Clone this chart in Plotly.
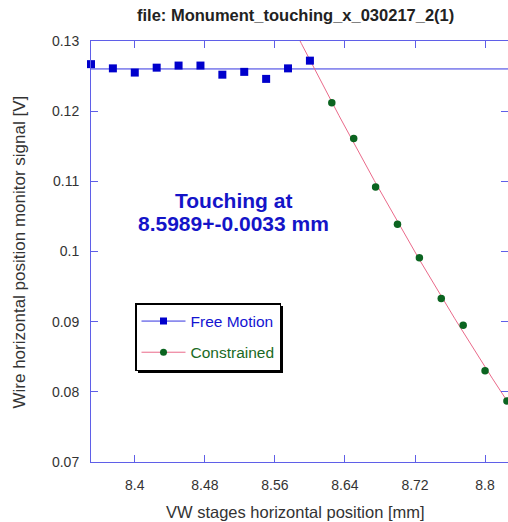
import numpy as np
import plotly.graph_objects as go

# Stage scan: wire monitor signal vs. horizontal stage position
free_x = [8.35, 8.375, 8.40, 8.425, 8.45, 8.475, 8.50, 8.525, 8.55, 8.575, 8.60]
free_y = [0.1267, 0.1261, 0.1255, 0.1262, 0.1265, 0.1265, 0.1252, 0.1256, 0.1246, 0.1261, 0.1272]

con_x = [8.625, 8.65, 8.675, 8.70, 8.725, 8.75, 8.775, 8.80, 8.825]
con_y = [0.1212, 0.1161, 0.1092, 0.1039, 0.0991, 0.0933, 0.0895, 0.0830, 0.0787]

x_ticks = [8.40, 8.48, 8.56, 8.64, 8.72, 8.80]
x_tick_text = ["8.4", "8.48", "8.56", "8.64", "8.72", "8.8"]
y_ticks = [0.07, 0.08, 0.09, 0.10, 0.11, 0.12, 0.13]
y_tick_text = ["0.07", "0.08", "0.09", "0.1", "0.11", "0.12", "0.13"]

touch_text = ["Touching at", "8.5989+-0.0033 mm"]

X_RANGE = [8.35, 8.8262]
Y_RANGE = [0.07, 0.13]

FONT = "Liberation Sans, Arial, sans-serif"
AXIS_BLUE = "#5f5fe8"
FREE_MARK = "#0000cc"
FREE_LINE = "#3434e0"
CON_MARK = "#0b6420"
CON_LINE = "#ea6a8a"

# plot area in pixels, used to place paper-referenced text and boxes
PL, PR, PT, PB = 91, 508, 41, 462


def px_x(v):
    return (v - PL) / (PR - PL)


def px_y(v):
    return (PB - v) / (PB - PT)


# Fits: flat level for free motion, quadratic for the constrained branch
free_level = float(np.mean(free_y))
con_coef = np.polyfit(con_x, con_y, 2)
fit_x = np.linspace(8.55, X_RANGE[1], 200)
fit_y = np.polyval(con_coef, fit_x)

fig = go.Figure()

fig.add_trace(go.Scatter(
    x=X_RANGE, y=[free_level, free_level], mode="lines",
    line=dict(color=FREE_LINE, width=1), showlegend=False, hoverinfo="skip"))
fig.add_trace(go.Scatter(
    x=fit_x, y=fit_y, mode="lines",
    line=dict(color=CON_LINE, width=1), showlegend=False, hoverinfo="skip"))

fig.add_trace(go.Scatter(
    x=free_x, y=free_y, mode="markers", cliponaxis=False,
    marker=dict(symbol="square", size=8, color=FREE_MARK), showlegend=False))
fig.add_trace(go.Scatter(
    x=con_x, y=con_y, mode="markers", cliponaxis=False,
    marker=dict(symbol="circle", size=7.5, color=CON_MARK), showlegend=False))

# legend entries
fig.add_trace(go.Scatter(
    x=[None], y=[None], mode="lines+markers", legendgroup="a",
    name='<span style="color:%s">Free Motion</span>' % "#1414d2",
    line=dict(color=FREE_LINE, width=1),
    marker=dict(symbol="square", size=7, color=FREE_MARK)))
fig.add_trace(go.Scatter(
    x=[None], y=[None], mode="lines+markers", legendgroup="b",
    name='<span style="color:%s">Constrained</span>' % "#1a6a24",
    line=dict(color=CON_LINE, width=1),
    marker=dict(symbol="circle", size=7, color=CON_MARK)))

axis_common = dict(
    showline=True, linecolor=AXIS_BLUE, linewidth=1, mirror="ticks",
    ticks="inside", ticklen=7, tickcolor=AXIS_BLUE, tickwidth=1,
    showgrid=False, zeroline=False,
    tickfont=dict(family=FONT, size=14, color="#333333"),
)

fig.update_xaxes(range=X_RANGE, tickvals=x_ticks, ticktext=x_tick_text,
                 ticklabelstandoff=10, **axis_common)
fig.update_yaxes(range=Y_RANGE, tickvals=y_ticks, ticktext=y_tick_text,
                 ticklabelstandoff=8, **axis_common)

annotations = [
    dict(text="<b>file: Monument_touching_x_030217_2(1)</b>", xref="paper", yref="paper",
         x=px_x(295), y=px_y(15), xanchor="center", yanchor="middle",
         showarrow=False, font=dict(family=FONT, size=16.5, color="#222222")),
    dict(text="VW stages horizontal position [mm]", xref="paper", yref="paper",
         x=px_x(295.5), y=px_y(512), xanchor="center", yanchor="middle",
         showarrow=False, font=dict(family=FONT, size=16.5, color="#333333")),
    dict(text="Wire horizontal position monitor signal [V]", xref="paper", yref="paper",
         x=px_x(19), y=px_y(252.5), xanchor="center", yanchor="middle",
         textangle=-90, showarrow=False, font=dict(family=FONT, size=17, color="#333333")),
]
for line_text, ypx in zip(touch_text, [200, 223]):
    annotations.append(dict(
        text="<b>%s</b>" % line_text, xref="paper", yref="paper",
        x=px_x(233), y=px_y(ypx), xanchor="center", yanchor="middle",
        showarrow=False, font=dict(family=FONT, size=21, color="#1414c8")))

# drop shadow behind the legend box
shadow = dict(type="rect", xref="paper", yref="paper", layer="above",
              x0=px_x(138), x1=px_x(283), y0=px_y(373), y1=px_y(306),
              fillcolor="black", line=dict(width=0))

fig.update_layout(
    width=508, height=522,
    margin=dict(l=PL, r=508 - PR, t=PT, b=522 - PB),
    paper_bgcolor="white", plot_bgcolor="white",
    annotations=annotations,
    shapes=[shadow],
    legend=dict(x=px_x(135), y=px_y(303), xanchor="left", yanchor="top",
                bgcolor="white", bordercolor="black", borderwidth=1.5,
                tracegroupgap=8, traceorder="grouped", itemwidth=44,
                font=dict(family=FONT, size=15.5)),
)

fig.write_html("out.html")
